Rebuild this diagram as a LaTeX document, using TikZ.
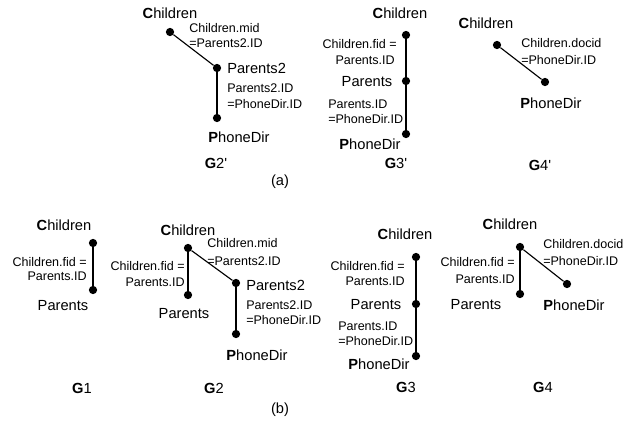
\documentclass[tikz,border=0pt]{standalone}
\usepackage{fontspec}
\setmainfont{Liberation Sans}[Ligatures=TeXOff]
\begin{document}
\begin{tikzpicture}[x=0.75pt,y=-0.75pt,
  dot/.style={circle,fill=black,inner sep=0pt,minimum size=6.2pt},
  lbl/.style={font=\fontsize{9.4}{11}\selectfont,inner sep=0pt},
  nm/.style={font=\fontsize{11}{13}\selectfont,inner sep=0pt},
  edge/.style={line width=0.85pt}]
\useasboundingbox (0,0) rectangle (644,429);

% ---------- G2' ----------
\node[nm] (c2p) at (170,13) {\textbf{C}hildren};
\node[dot] (d2pc) at (170,32) {};
\node[dot] (d2pp) at (217,68) {};
\node[dot] (d2pd) at (217,118) {};
\draw[edge] (d2pc) -- (d2pp);
\draw[edge] (d2pp) -- (d2pd);
\node[lbl,anchor=west] (l2pa) at (189,28) {Children.mid};
\node[lbl,anchor=west] (l2pb) at (189,43) {=Parents2.ID};
\node[nm,anchor=west] (p2p) at (227,68) {Parents2};
\node[lbl,anchor=west] (l2pc) at (227,88) {Parents2.ID};
\node[lbl,anchor=west] (l2pd) at (227,104) {=PhoneDir.ID};
\node[nm] (ph2p) at (239,137) {\textbf{P}honeDir};
\node[nm] (g2p) at (216,163) {\textbf{G}2'};

% ---------- G3' ----------
\node[nm] (c3p) at (400,13) {\textbf{C}hildren};
\node[dot] (d3pc) at (406,35) {};
\node[dot] (d3pp) at (406,81) {};
\node[dot] (d3pd) at (406,134) {};
\draw[edge] (d3pc) -- (d3pp);
\draw[edge] (d3pp) -- (d3pd);
\node[lbl,anchor=east] (l3pa) at (397,44) {Children.fid =};
\node[lbl,anchor=east] (l3pb) at (395,60) {Parents.ID};
\node[nm] (p3p) at (367,82) {Parents};
\node[lbl,anchor=west] (l3pc) at (328,104) {Parents.ID};
\node[lbl,anchor=west] (l3pd) at (328,119) {=PhoneDir.ID};
\node[nm] (ph3p) at (370,144) {\textbf{P}honeDir};
\node[nm] (g3p) at (396,163) {\textbf{G}3'};

% ---------- G4' ----------
\node[nm] (c4p) at (486,23) {\textbf{C}hildren};
\node[dot] (d4pc) at (497,45) {};
\node[dot] (d4pd) at (545,82) {};
\draw[edge] (d4pc) -- (d4pd);
\node[lbl,anchor=west] (l4pa) at (521,43) {Children.docid};
\node[lbl,anchor=west] (l4pb) at (521,60) {=PhoneDir.ID};
\node[nm] (ph4p) at (551,103) {\textbf{P}honeDir};
\node[nm] (g4p) at (540,165) {\textbf{G}4'};

\node[nm] (capa) at (280,182) {(a)};

% ---------- G1 ----------
\node[nm] (c1) at (64,225) {\textbf{C}hildren};
\node[dot] (d1c) at (93,243) {};
\node[dot] (d1p) at (93,290) {};
\draw[edge] (d1c) -- (d1p);
\node[lbl,anchor=east] (l1a) at (87,262) {Children.fid =};
\node[lbl,anchor=east] (l1b) at (87,276) {Parents.ID};
\node[nm] (p1) at (63,306) {Parents};
\node[nm] (g1) at (82,388) {\textbf{G}1};

% ---------- G2 ----------
\node[nm] (c2) at (188,230) {\textbf{C}hildren};
\node[dot] (d2c) at (188,248) {};
\node[dot] (d2p) at (188,295) {};
\node[dot] (d2q) at (236,283) {};
\node[dot] (d2d) at (236,334) {};
\draw[edge] (d2c) -- (d2p);
\draw[edge] (d2c) -- (d2q);
\draw[edge] (d2q) -- (d2d);
\node[lbl,anchor=east] (l2a) at (185,266) {Children.fid =};
\node[lbl,anchor=east] (l2b) at (185,282) {Parents.ID};
\node[lbl,anchor=west] (l2c) at (207,243) {Children.mid};
\node[lbl,anchor=west] (l2d) at (207,261) {=Parents2.ID};
\node[nm,anchor=west] (q2) at (246,285) {Parents2};
\node[lbl,anchor=west] (l2e) at (246,305) {Parents2.ID};
\node[lbl,anchor=west] (l2f) at (246,320) {=PhoneDir.ID};
\node[nm] (p2) at (184,314) {Parents};
\node[nm] (ph2) at (257,355) {\textbf{P}honeDir};
\node[nm] (g2) at (214,388) {\textbf{G}2};

\node[nm] (capb) at (280,410) {(b)};

% ---------- G3 ----------
\node[nm] (c3) at (405,234) {\textbf{C}hildren};
\node[dot] (d3c) at (416,257) {};
\node[dot] (d3p) at (416,304) {};
\node[dot] (d3d) at (416,356) {};
\draw[edge] (d3c) -- (d3p);
\draw[edge] (d3p) -- (d3d);
\node[lbl,anchor=east] (l3a) at (405,266) {Children.fid =};
\node[lbl,anchor=east] (l3b) at (405,281) {Parents.ID};
\node[nm] (p3) at (376,305) {Parents};
\node[lbl,anchor=west] (l3c) at (338,326) {Parents.ID};
\node[lbl,anchor=west] (l3d) at (338,341) {=PhoneDir.ID};
\node[nm] (ph3) at (379,364) {\textbf{P}honeDir};
\node[nm] (g3) at (406,387) {\textbf{G}3};

% ---------- G4 ----------
\node[nm] (c4) at (510,224) {\textbf{C}hildren};
\node[dot] (d4c) at (520,247) {};
\node[dot] (d4p) at (520,294) {};
\node[dot] (d4d) at (567,284) {};
\draw[edge] (d4c) -- (d4p);
\draw[edge] (d4c) -- (d4d);
\node[lbl,anchor=east] (l4a) at (515,262) {Children.fid =};
\node[lbl,anchor=east] (l4b) at (515,279) {Parents.ID};
\node[lbl,anchor=west] (l4c) at (543,244) {Children.docid};
\node[lbl,anchor=west] (l4d) at (543,261) {=PhoneDir.ID};
\node[nm] (p4) at (476,305) {Parents};
\node[nm] (ph4) at (574,305) {\textbf{P}honeDir};
\node[nm] (g4) at (543,387) {\textbf{G}4};
\end{tikzpicture}
\end{document}
